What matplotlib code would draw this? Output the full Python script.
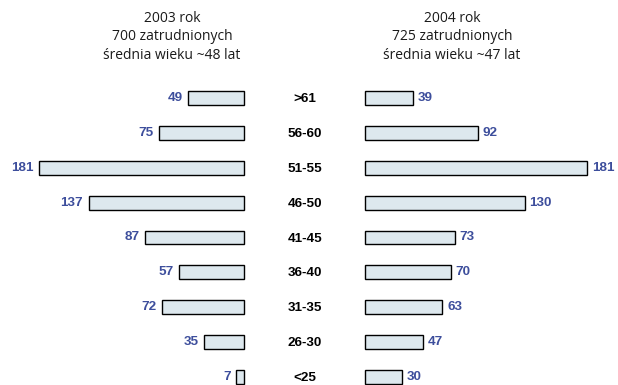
import matplotlib
matplotlib.use("Agg")
import matplotlib.pyplot as plt

# Age groups and headcounts per year
age_groups = [">61", "56-60", "51-55", "46-50", "41-45", "36-40", "31-35", "26-30", "<25"]
counts_2003 = [49, 75, 181, 137, 87, 57, 72, 35, 7]
counts_2004 = [39, 92, 181, 130, 73, 70, 63, 47, 30]
title_2003 = "2003 rok\n700 zatrudnionych\nśrednia wieku ~48 lat"
title_2004 = "2004 rok\n725 zatrudnionych\nśrednia wieku ~47 lat"

W, H = 618, 385
fig = plt.figure(figsize=(W / 100, H / 100), dpi=100)
fig.patch.set_facecolor("white")

bar_color = "#dde8ee"
num_color = "#3d4e9c"
font = "Liberation Sans"
fs = 9.7

row0, step = 98, 34.875
ylim = ((H - row0) / step, -row0 / step)
rows = list(range(len(age_groups)))

# left panel: bars grow to the left from x=244 px
axL = fig.add_axes([0, 0, 244 / W, 1])
barsL = axL.barh(rows, counts_2003, height=0.40, color=bar_color, edgecolor="black", linewidth=1.0)
for b in barsL:
    b.set_clip_on(False)
axL.set_xlim(244 / 1.133, 0)
axL.set_ylim(*ylim)
for r, v in zip(rows, counts_2003):
    axL.annotate(str(v), (v, r), xytext=(-4, 0), textcoords="offset points",
                 ha="right", va="center", color=num_color, fontsize=fs,
                 fontweight="bold", family=font)
axL.axis("off")

# right panel: bars grow to the right from x=365 px
axR = fig.add_axes([365 / W, 0, (W - 365) / W, 1])
barsR = axR.barh(rows, counts_2004, height=0.40, color=bar_color, edgecolor="black", linewidth=1.0)
for b in barsR:
    b.set_clip_on(False)
axR.set_xlim(0, (W - 365) / 1.227)
axR.set_ylim(*ylim)
for r, v in zip(rows, counts_2004):
    axR.annotate(str(v), (v, r), xytext=(3.5, 0), textcoords="offset points",
                 ha="left", va="center", color=num_color, fontsize=fs,
                 fontweight="bold", family=font)
axR.axis("off")

# centre column with age-group names
for r, g in zip(rows, age_groups):
    y = 1 - (row0 + 1 + r * step) / H
    fig.text(305 / W, y, g, ha="center", va="center", fontsize=fs,
             fontweight="bold", family=font, color="black")

fig.text(172 / W, 1 - 37 / H, title_2003, ha="center", va="center",
         fontsize=10, family="Open Sans", linespacing=1.3, color="#1a1a1a")
fig.text(452 / W, 1 - 37 / H, title_2004, ha="center", va="center",
         fontsize=10, family="Open Sans", linespacing=1.3, color="#1a1a1a")

fig.savefig("out.png", dpi=100, facecolor="white")
